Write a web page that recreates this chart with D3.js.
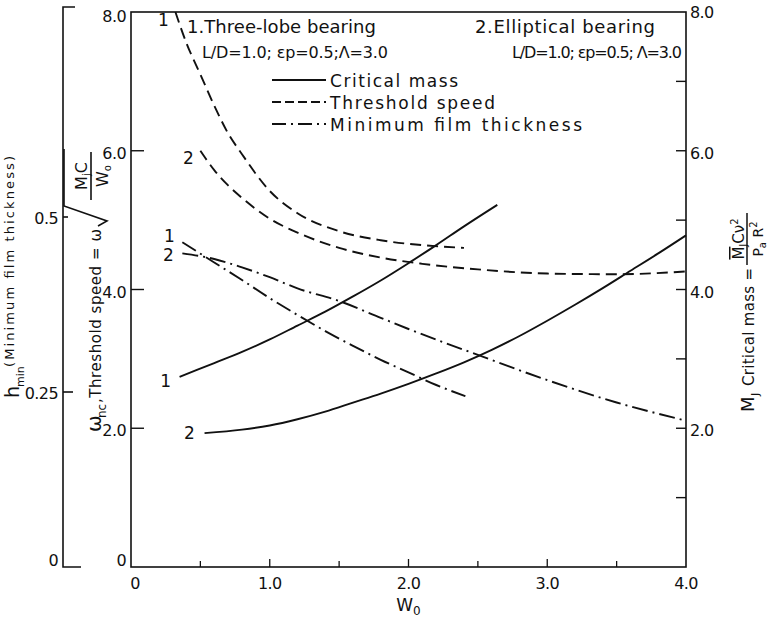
<!DOCTYPE html>
<html>
<head>
<meta charset="utf-8">
<script src="https://cdn.jsdelivr.net/npm/d3@7"></script>
<style>
  html, body { margin: 0; padding: 0; background: #fff; }
  svg { display: block; }
  text { font-family: "DejaVu Sans", "Liberation Sans", sans-serif; fill: #111; }
</style>
</head>
<body>
<svg id="chart" width="773" height="622"></svg>
<script>
// ---- data ----
// bottom axis: dimensionless load W0
const xTicksMajor = [0, 1, 2, 3, 4];
const xTickLabels = ["0", "1.0", "2.0", "3.0", "4.0"];
const leftTickValues = [0, 2, 4, 6, 8];
const leftTickLabels = ["0", "2.0", "4.0", "6.0", "8.0"];
const rightTickLabels = ["2.0", "4.0", "6.0", "8.0"];
const hTickValues = [0, 0.25, 0.5];
const hTickLabels = ["0", "0.25", "0.5"];

// 1. three-lobe bearing
const threshold1W = [0.32, 0.4, 0.5, 0.6, 0.7, 0.8, 1.0, 1.2, 1.5, 1.8, 2.1, 2.4];
const threshold1V = [8.0, 7.55, 7.1, 6.65, 6.25, 5.95, 5.42, 5.1, 4.84, 4.71, 4.64, 4.6];
const critical1W = [0.35, 0.6, 0.8, 1.0, 1.2, 1.4, 1.6, 1.8, 2.0, 2.2, 2.4, 2.64];
const critical1V = [2.74, 2.94, 3.1, 3.28, 3.48, 3.68, 3.9, 4.13, 4.38, 4.64, 4.91, 5.22];
const film1W = [0.37, 0.6, 0.8, 1.0, 1.2, 1.4, 1.6, 1.8, 2.0, 2.2, 2.41];
const film1V = [0.464, 0.435, 0.41, 0.384, 0.36, 0.337, 0.316, 0.296, 0.278, 0.26, 0.244];

// 2. elliptical bearing
const threshold2W = [0.5, 0.6, 0.7, 0.8, 1.0, 1.2, 1.5, 1.8, 2.1, 2.5, 3.0, 3.5, 4.0];
const threshold2V = [6.0, 5.72, 5.5, 5.32, 5.02, 4.82, 4.6, 4.46, 4.37, 4.29, 4.23, 4.22, 4.26];
const critical2W = [0.53, 0.8, 1.0, 1.2, 1.4, 1.6, 1.8, 2.0, 2.2, 2.4, 2.6, 2.8, 3.0, 3.2, 3.4, 3.6, 3.8, 4.0];
const critical2V = [1.93, 1.98, 2.04, 2.13, 2.24, 2.37, 2.5, 2.64, 2.79, 2.95, 3.13, 3.33, 3.55, 3.78, 4.02, 4.27, 4.52, 4.78];
const film2W = [0.37, 0.6, 0.8, 1.0, 1.2, 1.5, 1.8, 2.0, 2.5, 3.0, 3.5, 4.0];
const film2V = [0.448, 0.44, 0.428, 0.414, 0.398, 0.38, 0.356, 0.34, 0.303, 0.267, 0.235, 0.209];

const legendItems = ["Critical mass", "Threshold speed", "Minimum film thickness"];

// ---- layout ----
const svg = d3.select("#chart");
const plot = { left: 131, right: 686, top: 12, bottom: 567 };
const hAxisX = 63;

const x = d3.scaleLinear().domain([0, 4]).range([plot.left, plot.right]);
const y = d3.scaleLinear().domain([0, 8]).range([plot.bottom, plot.top]);      // ω_nc and M_J
const yh = d3.scaleLinear().domain([0, 0.8]).range([plot.bottom, 7]);         // h_min

const dashStyles = { solid: null, dashed: "11,6", dashdot: "16,5,2,5" };
const lineW = 1.9;

// stretch a text node to a given advance width
function fit(sel, len) {
  return sel.attr("textLength", len).attr("lengthAdjust", "spacing");
}

// ---- frame ----
svg.append("rect")
  .attr("x", plot.left).attr("y", plot.top)
  .attr("width", plot.right - plot.left).attr("height", plot.bottom - plot.top)
  .attr("fill", "none").attr("stroke", "#111").attr("stroke-width", 1.6);

// bottom axis: inward ticks every 0.5
svg.append("g").selectAll("line").data(d3.range(0.5, 4, 0.5)).join("line")
  .attr("x1", d => x(d)).attr("x2", d => x(d))
  .attr("y1", plot.bottom).attr("y2", d => plot.bottom - (d % 1 === 0 ? 8 : 6))
  .attr("stroke", "#111").attr("stroke-width", 1.3);
svg.append("g").selectAll("text").data(xTicksMajor).join("text")
  .attr("x", d => x(d) + (d === 0 ? 4 : 0)).attr("y", 589)
  .attr("text-anchor", "middle").attr("font-size", 16).attr("letter-spacing", -0.6)
  .text((d, i) => xTickLabels[i]);
const wLabel = svg.append("text").attr("x", x(2)).attr("y", 611).attr("text-anchor", "middle").attr("font-size", 17);
wLabel.append("tspan").text("W");
wLabel.append("tspan").attr("font-size", 12).attr("dy", 4).text("0");

// left (ω_nc) axis
svg.append("g").selectAll("line").data([2, 4, 6]).join("line")
  .attr("x1", plot.left).attr("x2", plot.left + 13)
  .attr("y1", d => y(d)).attr("y2", d => y(d))
  .attr("stroke", "#111").attr("stroke-width", 1.4);
svg.append("g").selectAll("text").data(leftTickValues).join("text")
  .attr("x", plot.left - 5).attr("y", d => y(d) + (d === 0 ? -1 : d === 8 ? 10 : 8))
  .attr("text-anchor", "end").attr("font-size", 16).attr("letter-spacing", -0.6)
  .text((d, i) => leftTickLabels[i]);

// right (M_J) axis
svg.append("g").selectAll("line").data(d3.range(1, 8)).join("line")
  .attr("x1", plot.right).attr("x2", plot.right - 10)
  .attr("y1", d => y(d)).attr("y2", d => y(d))
  .attr("stroke", "#111").attr("stroke-width", 1.4);
svg.append("g").selectAll("text").data([2, 4, 6, 8]).join("text")
  .attr("x", plot.right + 4).attr("y", d => y(d) + (d === 8 ? 6 : 8))
  .attr("font-size", 16).attr("letter-spacing", -0.6)
  .text((d, i) => rightTickLabels[i]);

// h_min axis (separate bracket on the far left)
const hAxis = svg.append("g").attr("stroke", "#111").attr("fill", "none").attr("stroke-width", 1.6);
hAxis.append("path").attr("d", `M${hAxisX + 12},${yh(0.8)}H${hAxisX}V${yh(0)}H${hAxisX + 18}`);
hAxis.append("line").attr("x1", hAxisX).attr("x2", hAxisX + 10)
  .attr("y1", yh(0.25)).attr("y2", yh(0.25));
hAxis.append("line").attr("x1", hAxisX).attr("x2", hAxisX + 5)
  .attr("y1", yh(0.5)).attr("y2", yh(0.5));
svg.append("g").selectAll("text").data(hTickValues).join("text")
  .attr("x", hAxisX - 5).attr("y", d => yh(d) + (d === 0 ? -1 : 7))
  .attr("text-anchor", "end").attr("font-size", 16).attr("letter-spacing", -0.6)
  .text((d, i) => hTickLabels[i]);

// ---- curves ----
const mainLine = d3.line().curve(d3.curveMonotoneX).x(d => x(d[0])).y(d => y(d[1]));
const filmLine = d3.line().curve(d3.curveMonotoneX).x(d => x(d[0])).y(d => yh(d[1]));
const zip = (a, b) => a.map((v, i) => [v, b[i]]);

const series = [
  { pts: zip(threshold1W, threshold1V), gen: mainLine, style: "dashed", label: "1", sy: y, dx: -12, dy: 14 },
  { pts: zip(threshold2W, threshold2V), gen: mainLine, style: "dashed", label: "2", sy: y, dx: -12, dy: 13 },
  { pts: zip(critical1W, critical1V), gen: mainLine, style: "solid", label: "1", sy: y, dx: -14, dy: 10 },
  { pts: zip(critical2W, critical2V), gen: mainLine, style: "solid", label: "2", sy: y, dx: -15, dy: 6 },
  { pts: zip(film1W, film1V), gen: filmLine, style: "dashdot", label: "1", sy: yh, dx: -13, dy: 0 },
  { pts: zip(film2W, film2V), gen: filmLine, style: "dashdot", label: "2", sy: yh, dx: -14, dy: 8 }
];

svg.append("g").selectAll("path").data(series).join("path")
  .attr("d", d => d.gen(d.pts))
  .attr("fill", "none").attr("stroke", "#111").attr("stroke-width", lineW)
  .attr("stroke-dasharray", d => dashStyles[d.style]);

svg.append("g").selectAll("text").data(series).join("text")
  .attr("x", d => x(d.pts[0][0]) + d.dx)
  .attr("y", d => d.sy(d.pts[0][1]) + d.dy)
  .attr("text-anchor", "middle").attr("font-size", 17)
  .text(d => d.label);

// ---- bearing notes ----
fit(svg.append("text").attr("x", 187).attr("y", 33).attr("font-size", 18).text("1.Three-lobe bearing"), 189);
fit(svg.append("text").attr("x", 202).attr("y", 58).attr("font-size", 16).text("L/D=1.0; εp=0.5;Λ=3.0"), 186);
fit(svg.append("text").attr("x", 475).attr("y", 33).attr("font-size", 18).text("2.Elliptical bearing"), 180);
fit(svg.append("text").attr("x", 512).attr("y", 58).attr("font-size", 16).text("L/D=1.0; εp=0.5; Λ=3.0"), 170);

// ---- legend ----
const legendStyles = ["solid", "dashed", "dashdot"];
const legendDash = { solid: null, dashed: "9,4", dashdot: "14,5,2,5" };
const legendLens = [128, 165, 252];
const legend = svg.append("g").attr("transform", "translate(272,80)");
legendItems.forEach((name, i) => {
  const row = legend.append("g").attr("transform", `translate(0,${i * 22})`);
  row.append("line").attr("x1", 0).attr("x2", 54).attr("y1", 0).attr("y2", 0)
    .attr("stroke", "#111").attr("stroke-width", lineW)
    .attr("stroke-dasharray", legendDash[legendStyles[i]]);
  fit(row.append("text").attr("x", 58).attr("y", 7).attr("font-size", 17).text(name), legendLens[i]);
});

// ---- rotated axis titles ----
// far-left: h_min
const hG = svg.append("g").attr("transform", "translate(19,398) rotate(-90)");
hG.append("text").attr("font-size", 19).text("h");
hG.append("text").attr("x", 11).attr("y", 5).attr("font-size", 11).text("min");
fit(hG.append("text").attr("x", 31).attr("y", -5).attr("font-size", 13).text("(Minimum film thickness)"), 211);

// inner-left: ω_nc, with radical expression
const wG = svg.append("g").attr("transform", "translate(101,432) rotate(-90)");
wG.append("text").attr("font-size", 20).text("ω");
wG.append("text").attr("x", 14).attr("y", 5).attr("font-size", 12).text("nc");
fit(wG.append("text").attr("x", 29).attr("font-size", 15).text(",Threshold speed = ω"), 174);
const r0 = 206;
wG.append("path")
  .attr("d", `M${r0},-3L${r0 + 5},6L${r0 + 20},-37H${r0 + 77}`)
  .attr("fill", "none").attr("stroke", "#111").attr("stroke-width", 1.6);
const fracMid = r0 + 50;
wG.append("line").attr("x1", r0 + 26).attr("x2", r0 + 74).attr("y1", -10).attr("y2", -10)
  .attr("stroke", "#111").attr("stroke-width", 1.6);
const num = wG.append("text").attr("x", fracMid).attr("y", -14).attr("text-anchor", "middle").attr("font-size", 16);
num.append("tspan").text("M");
num.append("tspan").attr("font-size", 10).attr("dy", 3).text("j");
num.append("tspan").attr("dy", -3).text("C");
const den = wG.append("text").attr("x", fracMid).attr("y", 7).attr("text-anchor", "middle").attr("font-size", 16);
den.append("tspan").text("W");
den.append("tspan").attr("font-size", 10).attr("dy", 3).text("o");

// right: M_J critical mass
const mG = svg.append("g").attr("transform", "translate(754,412) rotate(-90)");
mG.append("text").attr("font-size", 18).text("M");
mG.append("text").attr("x", 16).attr("y", 5).attr("font-size", 11).text("J");
fit(mG.append("text").attr("x", 26).attr("font-size", 15).text("Critical mass ="), 118);
const m0 = 147;
mG.append("line").attr("x1", m0).attr("x2", m0 + 52).attr("y1", -7).attr("y2", -7)
  .attr("stroke", "#111").attr("stroke-width", 1.5);
const mNum = mG.append("text").attr("x", m0 + 26).attr("y", -10).attr("text-anchor", "middle").attr("font-size", 15);
mNum.append("tspan").attr("text-decoration", "overline").text("M");
mNum.append("tspan").attr("font-size", 10).attr("dy", 3).text("J");
mNum.append("tspan").attr("dy", -3).text("Cν");
mNum.append("tspan").attr("font-size", 10).attr("dy", -6).text("2");
const mDen = mG.append("text").attr("x", m0 + 26).attr("y", 9).attr("text-anchor", "middle").attr("font-size", 14);
mDen.append("tspan").text("P");
mDen.append("tspan").attr("font-size", 10).attr("dy", 3).text("a");
mDen.append("tspan").attr("dy", -3).text(" R");
mDen.append("tspan").attr("font-size", 10).attr("dy", -6).text("2");
</script>
</body>
</html>
